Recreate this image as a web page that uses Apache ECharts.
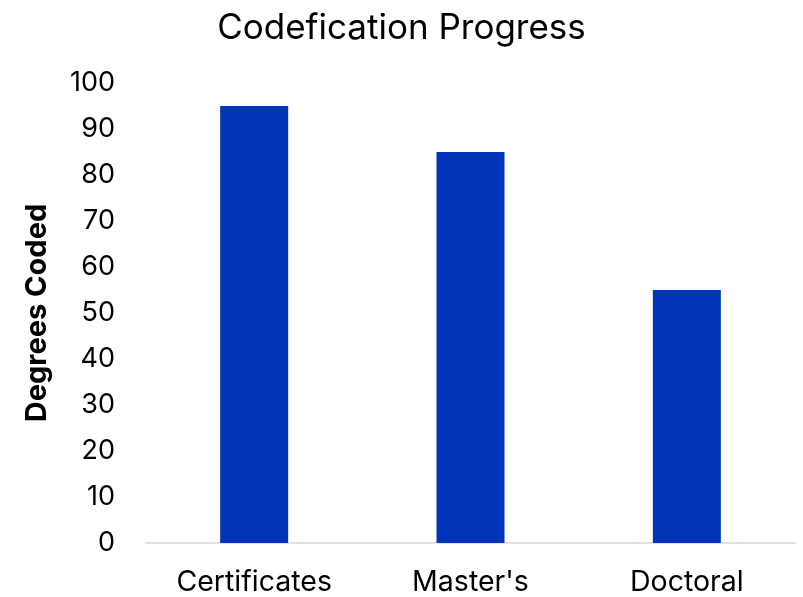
<!DOCTYPE html>
<html><head><meta charset="utf-8">
<script src="https://cdn.jsdelivr.net/npm/echarts@6/dist/echarts.min.js"></script>
<style>html,body{margin:0;padding:0;background:#fff}#c{width:803px;height:597px}</style>
</head><body><div id="c"></div>
<script>
const categories = ["Certificates", "Master's", "Doctoral"];
const values = [95, 85, 55];
const yTicks = [0, 10, 20, 30, 40, 50, 60, 70, 80, 90, 100];

const chart = echarts.init(document.getElementById('c'), null, {renderer: 'canvas'});
const font = 'Inter, "Noto Sans", sans-serif';
chart.setOption({
  animation: false,
  title: {
    text: 'Codefication Progress', left: 'center', top: 6,
    textStyle: {fontFamily: font, fontSize: 35, fontWeight: 'normal', color: '#000'}
  },
  grid: {left: 146, right: 8, top: 83, bottom: 54, containLabel: false},
  xAxis: {
    type: 'category', data: categories,
    axisLine: {lineStyle: {color: '#d9d9d9', width: 1.5}},
    axisTick: {show: false},
    axisLabel: {fontFamily: font, fontSize: 28.5, color: '#000', margin: 25}
  },
  yAxis: {
    type: 'value', min: yTicks[0], max: yTicks[yTicks.length - 1], interval: 10,
    name: 'Degrees Coded', nameLocation: 'middle', nameGap: 94,
    nameTextStyle: {fontFamily: font, fontSize: 29, fontWeight: 'bold', color: '#000'},
    axisLine: {show: false}, axisTick: {show: false}, splitLine: {show: false},
    axisLabel: {fontFamily: font, fontSize: 27, color: '#000', margin: 31}
  },
  series: [{
    type: 'bar', data: values, barWidth: 68,
    itemStyle: {color: '#0035b8'}
  }]
});
</script></body></html>
